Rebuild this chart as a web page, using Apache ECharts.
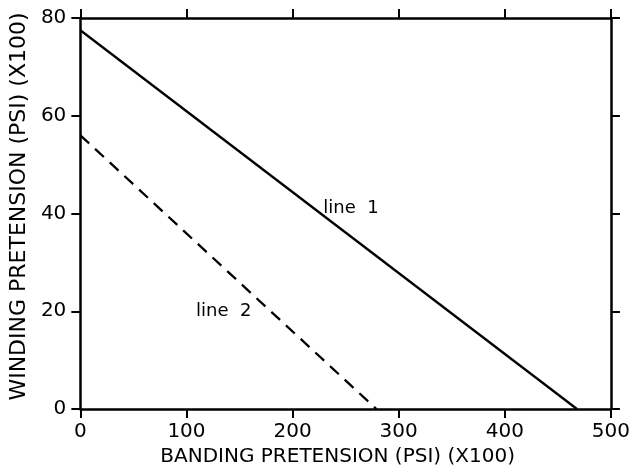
<!DOCTYPE html>
<html>
<head>
<meta charset="utf-8">
<script src="https://cdn.jsdelivr.net/npm/echarts@6/dist/echarts.min.js"></script>
<style>html,body{margin:0;padding:0;background:#fff;}#c{width:633px;height:474px;}</style>
</head>
<body>
<div id="c"></div>
<script>
const xTicks = [0, 100, 200, 300, 400, 500];
const yTicks = [0, 20, 40, 60, 80];
const line1 = [[0, 77.5], [468, 0]];
const line2 = [[0, 56], [279, 0]];
const line1Label = [229, 41];
const line2Label = [109, 20];
const xTitle = 'BANDING PRETENSION (PSI) (X100)';
const yTitle = 'WINDING PRETENSION (PSI) (X100)';

const chart = echarts.init(document.getElementById('c'), null, {renderer: 'canvas'});
const font = 'DejaVu Sans';
const axisLine = {show: true, onZero: false, lineStyle: {color: '#000', width: 2.5}};
const tick = {show: true, inside: false, length: 9, lineStyle: {color: '#000', width: 2}};
chart.setOption({
  animation: false,
  backgroundColor: '#fff',
  grid: {left: 74, right: 21, top: 18, bottom: 65},
  xAxis: [{
    type: 'value', min: xTicks[0], max: xTicks[xTicks.length - 1], interval: 100,
    position: 'bottom',
    axisLine: axisLine,
    axisTick: tick,
    axisLabel: {color: '#000', fontFamily: font, fontSize: 20, margin: 13},
    splitLine: {show: false},
    name: xTitle, nameLocation: 'middle', nameGap: 29,
    nameTextStyle: {color: '#000', fontFamily: font, fontSize: 20, padding: [0, 16, 0, 0]}
  }, {
    type: 'value', min: xTicks[0], max: xTicks[xTicks.length - 1], interval: 100,
    position: 'top',
    axisLine: axisLine,
    axisTick: tick,
    axisLabel: {show: false},
    splitLine: {show: false}
  }],
  yAxis: [{
    type: 'value', min: yTicks[0], max: yTicks[yTicks.length - 1], interval: 20,
    position: 'left',
    axisLine: axisLine,
    axisTick: tick,
    axisLabel: {color: '#000', fontFamily: font, fontSize: 20, margin: 14},
    splitLine: {show: false},
    name: yTitle, nameLocation: 'middle', nameGap: 50, nameRotate: 90,
    nameTextStyle: {color: '#000', fontFamily: font, fontSize: 22, padding: [0, 0, 0, 14]}
  }, {
    type: 'value', min: yTicks[0], max: yTicks[yTicks.length - 1], interval: 20,
    position: 'right',
    axisLine: axisLine,
    axisTick: tick,
    axisLabel: {show: false},
    splitLine: {show: false}
  }],
  series: [{
    type: 'line', data: line1, showSymbol: false, symbol: 'none',
    lineStyle: {color: '#000', width: 2.3},
    markPoint: {
      symbol: 'circle', symbolSize: 0,
      label: {show: true, position: 'right', distance: 0, formatter: 'line  1', color: '#000', fontFamily: font, fontSize: 18},
      data: [{coord: line1Label}]
    }
  }, {
    type: 'line', data: line2, showSymbol: false, symbol: 'none',
    lineStyle: {color: '#000', width: 2.3, type: [12, 8]},
    markPoint: {
      symbol: 'circle', symbolSize: 0,
      label: {show: true, position: 'right', distance: 0, formatter: 'line  2', color: '#000', fontFamily: font, fontSize: 18},
      data: [{coord: line2Label}]
    }
  }]
});
</script>
</body>
</html>
